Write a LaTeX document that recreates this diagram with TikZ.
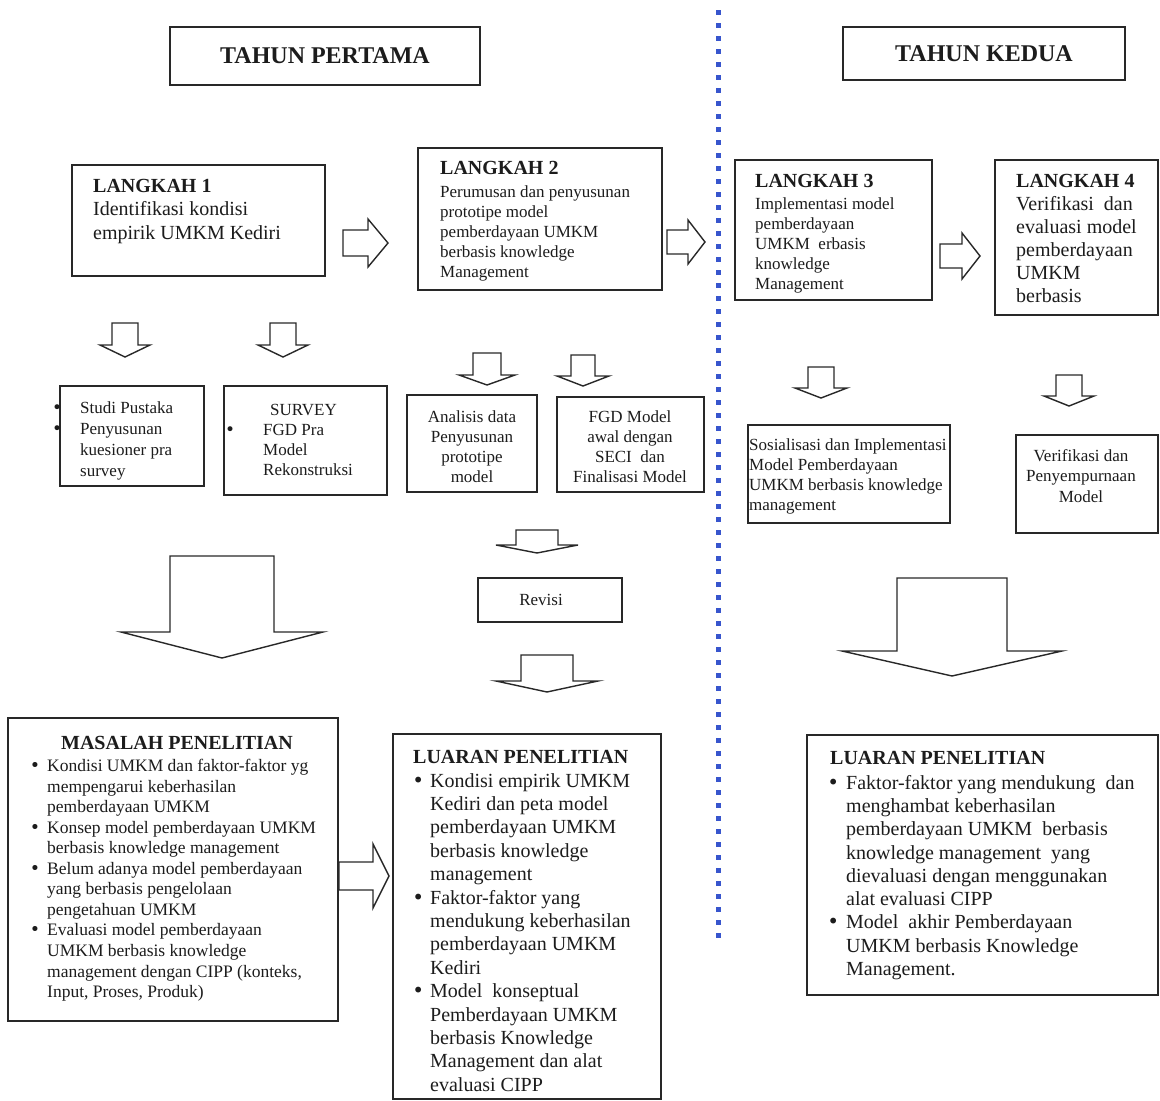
\documentclass[tikz,border=0pt]{standalone}
\usepackage{fontspec}
\setmainfont{Liberation Serif}
\newfontfamily\symf{DejaVu Sans}
\usetikzlibrary{fit}
\definecolor{inkc}{RGB}{28,28,28}
\definecolor{linec}{RGB}{40,40,40}
\definecolor{dotblue}{RGB}{55,85,205}
\newcommand\fs[2]{\fontsize{#1}{#2}\selectfont}
% list bullet hanging to the left of the line, #1 = gap before the text
\newcommand\bul[1]{\llap{{\symf\char"2022}\hspace{#1}}}
% block arrow pointing down: centre x, top y, half shaft, shoulder y, half head, tip y
\newcommand\dnarrow[6]{\draw[blk] ({#1-#3},#2) -- ({#1+#3},#2) -- ({#1+#3},#4) -- ({#1+#5},#4) -- (#1,#6) -- ({#1-#5},#4) -- ({#1-#3},#4) -- cycle;}
% block arrow pointing right: left x, head x, tip x, centre y, half shaft, half head
\newcommand\rtarrow[6]{\draw[blk] (#1,{#4-#5}) -- (#2,{#4-#5}) -- (#2,{#4-#6}) -- (#3,#4) -- (#2,{#4+#6}) -- (#2,{#4+#5}) -- (#1,{#4+#5}) -- cycle;}
\tikzset{
  box/.style={draw=linec, line width=1.6pt, inner sep=0pt},
  txt/.style={inner sep=0pt, anchor=north west, align=left, text=inkc},
  ctxt/.style={inner sep=0pt, anchor=north, align=center, text=inkc},
  blk/.style={draw=linec, line width=1.4pt, fill=white, line join=miter},
}
\begin{document}
\begin{tikzpicture}[x=1pt, y=-1pt]
\useasboundingbox[fill=white] (0,0) rectangle (1160,1101);

% dividing line between the two years
\draw[dotblue, line width=5pt, dash pattern=on 5pt off 8pt] (718,10) -- (718,940);

% year headers
\node[box, fit={(170,27) (480,85)}] (th1) {};
\node[inkc, font=\fs{24}{28}\bfseries] (th1t) at (325,56) {TAHUN PERTAMA};
\node[box, fit={(843,27) (1125,80)}] (th2) {};
\node[inkc, font=\fs{24}{28}\bfseries] (th2t) at (984,54) {TAHUN KEDUA};

% steps
\node[box, fit={(72,165) (325,276)}] (L1) {};
\node[txt, font=\fs{20}{23.5}] (L1t) at (93,179) {\textbf{LANGKAH 1}\\Identifikasi kondisi\\empirik UMKM Kediri};

\node[box, fit={(418,148) (662,290)}] (L2) {};
\node[txt, font=\fs{17}{20}] (L2t) at (440,161) {{\fs{20}{20}\bfseries LANGKAH 2}\\[3pt]Perumusan dan penyusunan\\prototipe model\\pemberdayaan UMKM\\berbasis knowledge\\Management};

\node[box, fit={(735,160) (932,300)}] (L3) {};
\node[txt, font=\fs{17}{20}] (L3t) at (755,174) {{\fs{20}{20}\bfseries LANGKAH 3}\\[2pt]Implementasi model\\pemberdayaan\\UMKM~ erbasis\\knowledge\\Management};

\node[box, fit={(995,160) (1158,315)}] (L4) {};
\node[txt, font=\fs{20}{23}] (L4t) at (1016,174) {\textbf{LANGKAH 4}\\Verifikasi~ dan\\evaluasi model\\pemberdayaan\\UMKM\\berbasis};

\rtarrow{343}{368}{388}{243}{13}{24}
\rtarrow{667}{688}{705}{242}{12}{22}
\rtarrow{940}{962}{980}{256}{12}{23}

% activities under each step
\dnarrow{125}{323}{13}{345}{25}{357}
\dnarrow{283}{323}{13}{345}{25}{357}
\dnarrow{487}{353}{14}{375}{28}{385}
\dnarrow{583}{355}{12}{376}{26}{386}
\dnarrow{821}{367}{13}{388}{26}{398}
\dnarrow{1069}{375}{13}{396}{25}{406}

\node[box, fit={(60,386) (204,486)}] (S1) {};
\node[txt, font=\fs{17}{21}] (S1t) at (80,401) {\bul{18pt}Studi Pustaka\\\bul{18pt}Penyusunan\\kuesioner pra\\survey};

\node[box, fit={(224,386) (387,495)}] (S2) {};
\node[txt, font=\fs{17}{20}] (S2t) at (263,404) {\hspace*{7pt}SURVEY\\\bul{28pt}FGD Pra\\Model\\Rekonstruksi};

\node[box, fit={(407,395) (537,492)}] (S3) {};
\node[ctxt, font=\fs{17}{20.3}] (S3t) at (472,410) {Analisis data\\Penyusunan\\prototipe\\model};

\node[box, fit={(557,397) (704,492)}] (S4) {};
\node[ctxt, font=\fs{17}{20.3}] (S4t) at (630,410) {FGD Model\\awal dengan\\SECI~ dan\\Finalisasi Model};

\node[box, fit={(748,425) (950,523)}] (S5) {};
\node[txt, font=\fs{17}{20.3}] (S5t) at (749,438) {Sosialisasi dan Implementasi\\Model Pemberdayaan\\UMKM berbasis knowledge\\management};

\node[box, fit={(1016,435) (1158,533)}] (S6) {};
\node[ctxt, font=\fs{17}{20.5}] (S6t) at (1081,449) {Verifikasi dan\\Penyempurnaan\\Model};

% revision loop
\dnarrow{537}{530}{21}{545}{41}{553}
\node[box, fit={(478,578) (622,622)}] (rev) {};
\node[inkc, font=\fs{17}{20}] (revt) at (541,600) {Revisi};
\dnarrow{547}{655}{26}{681}{51}{692}

% large arrows to the results
\dnarrow{222}{556}{52}{632}{101}{658}
\dnarrow{952}{578}{55}{651}{110}{676}

% research problem
\node[box, fit={(8,718) (338,1021)}] (mas) {};
\node[ctxt, font=\fs{20}{23}\bfseries] (mast) at (177,736.5) {MASALAH PENELITIAN};
\node[txt, font=\fs{17.5}{20.55}] (masb) at (47,759) {\bul{7pt}Kondisi UMKM dan faktor-faktor yg\\mempengarui keberhasilan\\pemberdayaan UMKM\\\bul{7pt}Konsep model pemberdayaan UMKM\\berbasis knowledge management\\\bul{7pt}Belum adanya model pemberdayaan\\yang berbasis pengelolaan\\pengetahuan UMKM\\\bul{7pt}Evaluasi model pemberdayaan\\UMKM berbasis knowledge\\management dengan CIPP (konteks,\\Input, Proses, Produk)};

\rtarrow{339}{373}{389}{876}{14}{32}

% results, first year
\node[box, fit={(393,734) (661,1099)}] (out1) {};
\node[txt, font=\fs{20}{23}\bfseries] (out1t) at (413,750.5) {LUARAN PENELITIAN};
\node[txt, font=\fs{20}{23.4}] (out1b) at (430,773) {\bul{6pt}Kondisi empirik UMKM\\Kediri dan peta model\\pemberdayaan UMKM\\berbasis knowledge\\management\\\bul{6pt}Faktor-faktor yang\\mendukung keberhasilan\\pemberdayaan UMKM\\Kediri\\\bul{6pt}Model~ konseptual\\Pemberdayaan UMKM\\berbasis Knowledge\\Management dan alat\\evaluasi CIPP};

% results, second year
\node[box, fit={(807,735) (1158,995)}] (out2) {};
\node[txt, font=\fs{20}{23}\bfseries] (out2t) at (830,751.5) {LUARAN PENELITIAN};
\node[txt, font=\fs{20}{23.25}] (out2b) at (846,775) {\bul{7pt}Faktor-faktor yang mendukung~ dan\\menghambat keberhasilan\\pemberdayaan UMKM~ berbasis\\knowledge management~ yang\\dievaluasi dengan menggunakan\\alat evaluasi CIPP\\\bul{7pt}Model~ akhir Pemberdayaan\\UMKM berbasis Knowledge\\Management.};
\end{tikzpicture}
\end{document}
